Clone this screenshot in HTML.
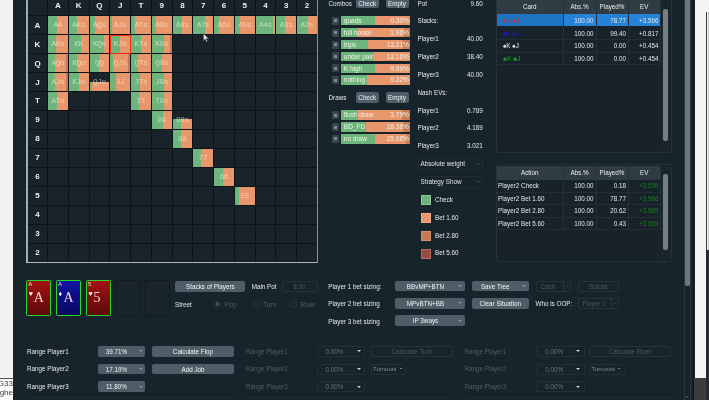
<!DOCTYPE html>
<html><head><meta charset="utf-8"><title>Solver</title>
<style>
html,body{margin:0;padding:0;background:#18242c;}
body{width:709px;height:400px;overflow:hidden;background:#18242c;position:relative;font-family:"Liberation Sans",sans-serif;font-size:6.3px;color:#e4e8ea;}
.a{position:absolute;}
.t{position:absolute;white-space:nowrap;line-height:10px;height:10px;}
.r{text-align:right;}
.c{text-align:center;}
.hd{position:absolute;font-weight:bold;font-size:8px;color:#f0f0f0;text-align:center;line-height:10px;}
.cell{position:absolute;background:#18232a;}
.cl{position:absolute;left:0;right:0;text-align:center;font-family:"Liberation Mono",monospace;font-size:7.7px;color:rgba(255,255,236,.55);line-height:10px;letter-spacing:-0.3px;}
.btn{position:absolute;background:#4f5d67;border-radius:2px;text-align:center;color:#f2f4f5;white-space:nowrap;}
.dbtn{position:absolute;border:1px solid #27333a;border-radius:2px;text-align:center;color:#4d5960;white-space:nowrap;box-sizing:border-box;}
.cb{position:absolute;background:#4f5d67;border-radius:2px;color:#f2f4f5;white-space:nowrap;text-align:center;}
.dcb{position:absolute;border:1px solid #232f36;border-radius:2px;box-sizing:border-box;color:#dfe4e6;white-space:nowrap;}
.dim{color:#515d64;}
.bar{position:absolute;height:9.6px;left:340.8px;width:69px;background:#e8976d;overflow:hidden;}
.bar i{position:absolute;left:0;top:0;bottom:0;background:#6db57c;}
.bar b{position:absolute;right:0;top:0;bottom:0;background:#c47a52;opacity:.9}
.bar span{position:absolute;left:3px;top:0;line-height:10px;color:#f4efe6;font-size:6.5px;}
.bar em{position:absolute;right:1px;top:0;line-height:10px;color:#f4efe6;font-style:normal;font-size:6.5px;}
.chk{position:absolute;left:332px;width:7px;height:8px;background:#38444c;border-radius:1px;}
.chk:after{content:"";position:absolute;left:2px;top:2.5px;width:3px;height:3px;background:#7d8890;}
.th{position:absolute;background:#303c44;color:#e8ecee;text-align:center;line-height:13px;}
.sq{position:absolute;left:420.5px;width:10px;height:10px;}
#w{position:absolute;left:0;top:0;width:709px;height:400px;filter:blur(0.5px);}
</style></head><body><div id="w">

<div class="a" style="left:-6px;top:-6px;width:19px;height:412px;background:#f1f1f1"></div>
<div class="a" style="left:-6px;top:378px;width:19px;height:28px;background:#fafafa;border-top:1px solid #555;overflow:hidden;font-size:8px;line-height:9px;color:#444;white-space:nowrap"><span style="position:absolute;right:0;top:0">8G33</span><span style="position:absolute;right:0;top:9px">aghe</span><span style="position:absolute;right:0;top:18px">layer</span></div>
<div class="a" style="left:27px;top:0;width:290.75px;height:262.65px;background:#0c1419"></div>
<div class="cell" style="left:28px;top:16.3px;width:19px;height:17.95px"></div>
<div class="hd" style="left:28px;top:20.675px;width:19px">A</div>
<div class="cell" style="left:28px;top:35.25px;width:19px;height:17.95px"></div>
<div class="hd" style="left:28px;top:39.625px;width:19px">K</div>
<div class="cell" style="left:28px;top:54.2px;width:19px;height:17.95px"></div>
<div class="hd" style="left:28px;top:58.575px;width:19px">Q</div>
<div class="cell" style="left:28px;top:73.15px;width:19px;height:17.95px"></div>
<div class="hd" style="left:28px;top:77.525px;width:19px">J</div>
<div class="cell" style="left:28px;top:92.1px;width:19px;height:17.95px"></div>
<div class="hd" style="left:28px;top:96.475px;width:19px">T</div>
<div class="cell" style="left:28px;top:111.05px;width:19px;height:17.95px"></div>
<div class="hd" style="left:28px;top:115.425px;width:19px">9</div>
<div class="cell" style="left:28px;top:130px;width:19px;height:17.95px"></div>
<div class="hd" style="left:28px;top:134.375px;width:19px">8</div>
<div class="cell" style="left:28px;top:148.95px;width:19px;height:17.95px"></div>
<div class="hd" style="left:28px;top:153.325px;width:19px">7</div>
<div class="cell" style="left:28px;top:167.9px;width:19px;height:17.95px"></div>
<div class="hd" style="left:28px;top:172.275px;width:19px">6</div>
<div class="cell" style="left:28px;top:186.85px;width:19px;height:17.95px"></div>
<div class="hd" style="left:28px;top:191.225px;width:19px">5</div>
<div class="cell" style="left:28px;top:205.8px;width:19px;height:17.95px"></div>
<div class="hd" style="left:28px;top:210.175px;width:19px">4</div>
<div class="cell" style="left:28px;top:224.75px;width:19px;height:17.95px"></div>
<div class="hd" style="left:28px;top:229.125px;width:19px">3</div>
<div class="cell" style="left:28px;top:243.7px;width:19px;height:17.95px"></div>
<div class="hd" style="left:28px;top:248.075px;width:19px">2</div>
<div class="cell" style="left:28px;top:0;width:19px;height:15.3px"></div>
<div class="cell" style="left:48px;top:0;width:19.75px;height:15.3px"></div>
<div class="hd" style="left:48px;top:1.3px;width:19.75px">A</div>
<div class="cell" style="left:68.75px;top:0;width:19.75px;height:15.3px"></div>
<div class="hd" style="left:68.75px;top:1.3px;width:19.75px">K</div>
<div class="cell" style="left:89.5px;top:0;width:19.75px;height:15.3px"></div>
<div class="hd" style="left:89.5px;top:1.3px;width:19.75px">Q</div>
<div class="cell" style="left:110.25px;top:0;width:19.75px;height:15.3px"></div>
<div class="hd" style="left:110.25px;top:1.3px;width:19.75px">J</div>
<div class="cell" style="left:131px;top:0;width:19.75px;height:15.3px"></div>
<div class="hd" style="left:131px;top:1.3px;width:19.75px">T</div>
<div class="cell" style="left:151.75px;top:0;width:19.75px;height:15.3px"></div>
<div class="hd" style="left:151.75px;top:1.3px;width:19.75px">9</div>
<div class="cell" style="left:172.5px;top:0;width:19.75px;height:15.3px"></div>
<div class="hd" style="left:172.5px;top:1.3px;width:19.75px">8</div>
<div class="cell" style="left:193.25px;top:0;width:19.75px;height:15.3px"></div>
<div class="hd" style="left:193.25px;top:1.3px;width:19.75px">7</div>
<div class="cell" style="left:214px;top:0;width:19.75px;height:15.3px"></div>
<div class="hd" style="left:214px;top:1.3px;width:19.75px">6</div>
<div class="cell" style="left:234.75px;top:0;width:19.75px;height:15.3px"></div>
<div class="hd" style="left:234.75px;top:1.3px;width:19.75px">5</div>
<div class="cell" style="left:255.5px;top:0;width:19.75px;height:15.3px"></div>
<div class="hd" style="left:255.5px;top:1.3px;width:19.75px">4</div>
<div class="cell" style="left:276.25px;top:0;width:19.75px;height:15.3px"></div>
<div class="hd" style="left:276.25px;top:1.3px;width:19.75px">3</div>
<div class="cell" style="left:297px;top:0;width:19.75px;height:15.3px"></div>
<div class="hd" style="left:297px;top:1.3px;width:19.75px">2</div>
<div class="cell" style="left:48px;top:16.3px;width:19.75px;height:17.95px"><div class="a" style="left:0;right:0;bottom:0;top:0%;background:#e8976d"><div class="a" style="left:0;top:0;bottom:0;width:48%;background:#6db57c"></div></div><div class="cl" style="top:4.2px">AA</div></div>
<div class="cell" style="left:68.75px;top:16.3px;width:19.75px;height:17.95px"><div class="a" style="left:0;right:0;bottom:0;top:0%;background:#e8976d"><div class="a" style="left:0;top:0;bottom:0;width:40%;background:#6db57c"></div></div><div class="cl" style="top:4.2px">AKs</div></div>
<div class="cell" style="left:89.5px;top:16.3px;width:19.75px;height:17.95px"><div class="a" style="left:0;right:0;bottom:0;top:0%;background:#e8976d"><div class="a" style="left:0;top:0;bottom:0;width:26%;background:#6db57c"></div></div><div class="cl" style="top:4.2px">AQs</div></div>
<div class="cell" style="left:110.25px;top:16.3px;width:19.75px;height:17.95px"><div class="a" style="left:0;right:0;bottom:0;top:0%;background:#e8976d"><div class="a" style="left:0;top:0;bottom:0;width:11%;background:#6db57c"></div></div><div class="cl" style="top:4.2px">AJs</div></div>
<div class="cell" style="left:131px;top:16.3px;width:19.75px;height:17.95px"><div class="a" style="left:0;right:0;bottom:0;top:0%;background:#e8976d"><div class="a" style="left:0;top:0;bottom:0;width:22%;background:#6db57c"></div></div><div class="cl" style="top:4.2px">ATs</div></div>
<div class="cell" style="left:151.75px;top:16.3px;width:19.75px;height:17.95px"><div class="a" style="left:0;right:0;bottom:0;top:0%;background:#e8976d"><div class="a" style="left:0;top:0;bottom:0;width:20%;background:#6db57c"></div></div><div class="cl" style="top:4.2px">A9s</div></div>
<div class="cell" style="left:172.5px;top:16.3px;width:19.75px;height:17.95px"><div class="a" style="left:0;right:0;bottom:0;top:0%;background:#e8976d"><div class="a" style="left:0;top:0;bottom:0;width:46%;background:#6db57c"></div></div><div class="cl" style="top:4.2px">A8s</div></div>
<div class="cell" style="left:193.25px;top:16.3px;width:19.75px;height:17.95px"><div class="a" style="left:0;right:0;bottom:0;top:0%;background:#e8976d"><div class="a" style="left:0;top:0;bottom:0;width:60%;background:#6db57c"></div></div><div class="cl" style="top:4.2px">A7s</div></div>
<div class="cell" style="left:214px;top:16.3px;width:19.75px;height:17.95px"><div class="a" style="left:0;right:0;bottom:0;top:0%;background:#e8976d"><div class="a" style="left:0;top:0;bottom:0;width:24%;background:#6db57c"></div></div><div class="cl" style="top:4.2px">A6s</div></div>
<div class="cell" style="left:234.75px;top:16.3px;width:19.75px;height:17.95px"><div class="a" style="left:0;right:0;bottom:0;top:0%;background:#e8976d"><div class="a" style="left:0;top:0;bottom:0;width:27%;background:#6db57c"></div></div><div class="cl" style="top:4.2px">A5s</div></div>
<div class="cell" style="left:255.5px;top:16.3px;width:19.75px;height:17.95px"><div class="a" style="left:0;right:0;bottom:0;top:0%;background:#e8976d"><div class="a" style="left:0;top:0;bottom:0;width:90%;background:#6db57c"></div></div><div class="cl" style="top:4.2px">A4s</div></div>
<div class="cell" style="left:276.25px;top:16.3px;width:19.75px;height:17.95px"><div class="a" style="left:0;right:0;bottom:0;top:0%;background:#e8976d"><div class="a" style="left:0;top:0;bottom:0;width:42%;background:#6db57c"></div></div><div class="cl" style="top:4.2px">A3s</div></div>
<div class="cell" style="left:297px;top:16.3px;width:19.75px;height:17.95px"><div class="a" style="left:0;right:0;bottom:0;top:0%;background:#e8976d"><div class="a" style="left:0;top:0;bottom:0;width:58%;background:#6db57c"></div></div><div class="cl" style="top:4.2px">A2s</div></div>
<div class="cell" style="left:48px;top:35.25px;width:19.75px;height:17.95px"><div class="a" style="left:0;right:0;bottom:0;top:0%;background:#e8976d"><div class="a" style="left:0;top:0;bottom:0;width:41%;background:#6db57c"></div></div><div class="cl" style="top:4.2px">AKo</div></div>
<div class="cell" style="left:68.75px;top:35.25px;width:19.75px;height:17.95px"><div class="a" style="left:0;right:0;bottom:0;top:0%;background:#e8976d"><div class="a" style="left:0;top:0;bottom:0;width:62%;background:#6db57c"></div></div><div class="cl" style="top:4.2px">KK</div></div>
<div class="cell" style="left:89.5px;top:35.25px;width:19.75px;height:17.95px"><div class="a" style="left:0;right:0;bottom:0;top:0%;background:#e8976d"><div class="a" style="left:0;top:0;bottom:0;width:75%;background:#6db57c"></div></div><div class="cl" style="top:4.2px">KQs</div></div>
<div class="cell" style="left:110.25px;top:35.25px;width:19.75px;height:17.95px"><div class="a" style="left:0;right:0;bottom:0;top:0%;background:#e8976d"><div class="a" style="left:0;top:0;bottom:0;width:50%;background:#6db57c"></div></div><div class="cl" style="top:4.2px">KJs</div></div>
<div class="cell" style="left:131px;top:35.25px;width:19.75px;height:17.95px"><div class="a" style="left:0;right:0;bottom:0;top:0%;background:#e8976d"><div class="a" style="left:0;top:0;bottom:0;width:53%;background:#6db57c"></div></div><div class="cl" style="top:4.2px">KTs</div></div>
<div class="cell" style="left:151.75px;top:35.25px;width:19.75px;height:17.95px"><div class="a" style="left:0;right:0;bottom:0;top:0%;background:#e8976d"><div class="a" style="left:0;top:0;bottom:0;width:64%;background:#6db57c"></div><div class="a" style="right:0;top:0;bottom:0;width:8%;background:#c47a52"></div></div><div class="cl" style="top:4.2px">K9s</div></div>
<div class="cell" style="left:172.5px;top:35.25px;width:19.75px;height:17.95px"></div>
<div class="cell" style="left:193.25px;top:35.25px;width:19.75px;height:17.95px"></div>
<div class="cell" style="left:214px;top:35.25px;width:19.75px;height:17.95px"></div>
<div class="cell" style="left:234.75px;top:35.25px;width:19.75px;height:17.95px"></div>
<div class="cell" style="left:255.5px;top:35.25px;width:19.75px;height:17.95px"></div>
<div class="cell" style="left:276.25px;top:35.25px;width:19.75px;height:17.95px"></div>
<div class="cell" style="left:297px;top:35.25px;width:19.75px;height:17.95px"></div>
<div class="cell" style="left:48px;top:54.2px;width:19.75px;height:17.95px"><div class="a" style="left:0;right:0;bottom:0;top:0%;background:#e8976d"><div class="a" style="left:0;top:0;bottom:0;width:37%;background:#6db57c"></div><div class="a" style="right:0;top:0;bottom:0;width:7%;background:#c47a52"></div></div><div class="cl" style="top:4.2px">AQo</div></div>
<div class="cell" style="left:68.75px;top:54.2px;width:19.75px;height:17.95px"><div class="a" style="left:0;right:0;bottom:0;top:0%;background:#e8976d"><div class="a" style="left:0;top:0;bottom:0;width:40%;background:#6db57c"></div></div><div class="cl" style="top:4.2px">KQo</div></div>
<div class="cell" style="left:89.5px;top:54.2px;width:19.75px;height:17.95px"><div class="a" style="left:0;right:0;bottom:0;top:0%;background:#e8976d"><div class="a" style="left:0;top:0;bottom:0;width:47%;background:#6db57c"></div></div><div class="cl" style="top:4.2px">QQ</div></div>
<div class="cell" style="left:110.25px;top:54.2px;width:19.75px;height:17.95px"><div class="a" style="left:0;right:0;bottom:0;top:0%;background:#e8976d"><div class="a" style="left:0;top:0;bottom:0;width:16%;background:#6db57c"></div><div class="a" style="right:0;top:0;bottom:0;width:10%;background:#c47a52"></div></div><div class="cl" style="top:4.2px">QJs</div></div>
<div class="cell" style="left:131px;top:54.2px;width:19.75px;height:17.95px"><div class="a" style="left:0;right:0;bottom:0;top:0%;background:#e8976d"><div class="a" style="left:0;top:0;bottom:0;width:33%;background:#6db57c"></div></div><div class="cl" style="top:4.2px">QTs</div></div>
<div class="cell" style="left:151.75px;top:54.2px;width:19.75px;height:17.95px"><div class="a" style="left:0;right:0;bottom:0;top:0%;background:#e8976d"><div class="a" style="left:0;top:0;bottom:0;width:50%;background:#6db57c"></div></div><div class="cl" style="top:4.2px">Q9s</div></div>
<div class="cell" style="left:172.5px;top:54.2px;width:19.75px;height:17.95px"></div>
<div class="cell" style="left:193.25px;top:54.2px;width:19.75px;height:17.95px"></div>
<div class="cell" style="left:214px;top:54.2px;width:19.75px;height:17.95px"></div>
<div class="cell" style="left:234.75px;top:54.2px;width:19.75px;height:17.95px"></div>
<div class="cell" style="left:255.5px;top:54.2px;width:19.75px;height:17.95px"></div>
<div class="cell" style="left:276.25px;top:54.2px;width:19.75px;height:17.95px"></div>
<div class="cell" style="left:297px;top:54.2px;width:19.75px;height:17.95px"></div>
<div class="cell" style="left:48px;top:73.15px;width:19.75px;height:17.95px"><div class="a" style="left:0;right:0;bottom:0;top:0%;background:#e8976d"><div class="a" style="left:0;top:0;bottom:0;width:34%;background:#6db57c"></div><div class="a" style="right:0;top:0;bottom:0;width:7%;background:#c47a52"></div></div><div class="cl" style="top:4.2px">AJo</div></div>
<div class="cell" style="left:68.75px;top:73.15px;width:19.75px;height:17.95px"><div class="a" style="left:0;right:0;bottom:0;top:0%;background:#e8976d"><div class="a" style="left:0;top:0;bottom:0;width:52%;background:#6db57c"></div></div><div class="cl" style="top:4.2px">KJo</div></div>
<div class="cell" style="left:89.5px;top:73.15px;width:19.75px;height:17.95px"><div class="a" style="left:0;right:0;bottom:0;top:49%;background:#e8976d"><div class="a" style="left:0;top:0;bottom:0;width:14%;background:#6db57c"></div></div><div class="cl" style="top:4.2px">QJo</div></div>
<div class="cell" style="left:110.25px;top:73.15px;width:19.75px;height:17.95px"><div class="a" style="left:0;right:0;bottom:0;top:0%;background:#e8976d"><div class="a" style="left:0;top:0;bottom:0;width:31%;background:#6db57c"></div></div><div class="cl" style="top:4.2px">JJ</div></div>
<div class="cell" style="left:131px;top:73.15px;width:19.75px;height:17.95px"><div class="a" style="left:0;right:0;bottom:0;top:0%;background:#e8976d"><div class="a" style="left:0;top:0;bottom:0;width:45%;background:#6db57c"></div></div><div class="cl" style="top:4.2px">JTs</div></div>
<div class="cell" style="left:151.75px;top:73.15px;width:19.75px;height:17.95px"><div class="a" style="left:0;right:0;bottom:0;top:0%;background:#e8976d"><div class="a" style="left:0;top:0;bottom:0;width:60%;background:#6db57c"></div></div><div class="cl" style="top:4.2px">J9s</div></div>
<div class="cell" style="left:172.5px;top:73.15px;width:19.75px;height:17.95px"></div>
<div class="cell" style="left:193.25px;top:73.15px;width:19.75px;height:17.95px"></div>
<div class="cell" style="left:214px;top:73.15px;width:19.75px;height:17.95px"></div>
<div class="cell" style="left:234.75px;top:73.15px;width:19.75px;height:17.95px"></div>
<div class="cell" style="left:255.5px;top:73.15px;width:19.75px;height:17.95px"></div>
<div class="cell" style="left:276.25px;top:73.15px;width:19.75px;height:17.95px"></div>
<div class="cell" style="left:297px;top:73.15px;width:19.75px;height:17.95px"></div>
<div class="cell" style="left:48px;top:92.1px;width:19.75px;height:17.95px"><div class="a" style="left:0;right:0;bottom:0;top:0%;background:#e8976d"><div class="a" style="left:0;top:0;bottom:0;width:45%;background:#6db57c"></div></div><div class="cl" style="top:4.2px">ATo</div></div>
<div class="cell" style="left:68.75px;top:92.1px;width:19.75px;height:17.95px"></div>
<div class="cell" style="left:89.5px;top:92.1px;width:19.75px;height:17.95px"></div>
<div class="cell" style="left:110.25px;top:92.1px;width:19.75px;height:17.95px"></div>
<div class="cell" style="left:131px;top:92.1px;width:19.75px;height:17.95px"><div class="a" style="left:0;right:0;bottom:0;top:0%;background:#e8976d"><div class="a" style="left:0;top:0;bottom:0;width:43%;background:#6db57c"></div></div><div class="cl" style="top:4.2px">TT</div></div>
<div class="cell" style="left:151.75px;top:92.1px;width:19.75px;height:17.95px"><div class="a" style="left:0;right:0;bottom:0;top:0%;background:#e8976d"><div class="a" style="left:0;top:0;bottom:0;width:60%;background:#6db57c"></div></div><div class="cl" style="top:4.2px">T9s</div></div>
<div class="cell" style="left:172.5px;top:92.1px;width:19.75px;height:17.95px"></div>
<div class="cell" style="left:193.25px;top:92.1px;width:19.75px;height:17.95px"></div>
<div class="cell" style="left:214px;top:92.1px;width:19.75px;height:17.95px"></div>
<div class="cell" style="left:234.75px;top:92.1px;width:19.75px;height:17.95px"></div>
<div class="cell" style="left:255.5px;top:92.1px;width:19.75px;height:17.95px"></div>
<div class="cell" style="left:276.25px;top:92.1px;width:19.75px;height:17.95px"></div>
<div class="cell" style="left:297px;top:92.1px;width:19.75px;height:17.95px"></div>
<div class="cell" style="left:48px;top:111.05px;width:19.75px;height:17.95px"></div>
<div class="cell" style="left:68.75px;top:111.05px;width:19.75px;height:17.95px"></div>
<div class="cell" style="left:89.5px;top:111.05px;width:19.75px;height:17.95px"></div>
<div class="cell" style="left:110.25px;top:111.05px;width:19.75px;height:17.95px"></div>
<div class="cell" style="left:131px;top:111.05px;width:19.75px;height:17.95px"></div>
<div class="cell" style="left:151.75px;top:111.05px;width:19.75px;height:17.95px"><div class="a" style="left:0;right:0;bottom:0;top:0%;background:#e8976d"><div class="a" style="left:0;top:0;bottom:0;width:58%;background:#6db57c"></div></div><div class="cl" style="top:4.2px">99</div></div>
<div class="cell" style="left:172.5px;top:111.05px;width:19.75px;height:17.95px"><div class="a" style="left:0;right:0;bottom:0;top:47%;background:#e8976d"><div class="a" style="left:0;top:0;bottom:0;width:44%;background:#6db57c"></div></div><div class="cl" style="top:4.2px">98s</div></div>
<div class="cell" style="left:193.25px;top:111.05px;width:19.75px;height:17.95px"></div>
<div class="cell" style="left:214px;top:111.05px;width:19.75px;height:17.95px"></div>
<div class="cell" style="left:234.75px;top:111.05px;width:19.75px;height:17.95px"></div>
<div class="cell" style="left:255.5px;top:111.05px;width:19.75px;height:17.95px"></div>
<div class="cell" style="left:276.25px;top:111.05px;width:19.75px;height:17.95px"></div>
<div class="cell" style="left:297px;top:111.05px;width:19.75px;height:17.95px"></div>
<div class="cell" style="left:48px;top:130px;width:19.75px;height:17.95px"></div>
<div class="cell" style="left:68.75px;top:130px;width:19.75px;height:17.95px"></div>
<div class="cell" style="left:89.5px;top:130px;width:19.75px;height:17.95px"></div>
<div class="cell" style="left:110.25px;top:130px;width:19.75px;height:17.95px"></div>
<div class="cell" style="left:131px;top:130px;width:19.75px;height:17.95px"></div>
<div class="cell" style="left:151.75px;top:130px;width:19.75px;height:17.95px"></div>
<div class="cell" style="left:172.5px;top:130px;width:19.75px;height:17.95px"><div class="a" style="left:0;right:0;bottom:0;top:0%;background:#e8976d"><div class="a" style="left:0;top:0;bottom:0;width:44%;background:#6db57c"></div></div><div class="cl" style="top:4.2px">88</div></div>
<div class="cell" style="left:193.25px;top:130px;width:19.75px;height:17.95px"></div>
<div class="cell" style="left:214px;top:130px;width:19.75px;height:17.95px"></div>
<div class="cell" style="left:234.75px;top:130px;width:19.75px;height:17.95px"></div>
<div class="cell" style="left:255.5px;top:130px;width:19.75px;height:17.95px"></div>
<div class="cell" style="left:276.25px;top:130px;width:19.75px;height:17.95px"></div>
<div class="cell" style="left:297px;top:130px;width:19.75px;height:17.95px"></div>
<div class="cell" style="left:48px;top:148.95px;width:19.75px;height:17.95px"></div>
<div class="cell" style="left:68.75px;top:148.95px;width:19.75px;height:17.95px"></div>
<div class="cell" style="left:89.5px;top:148.95px;width:19.75px;height:17.95px"></div>
<div class="cell" style="left:110.25px;top:148.95px;width:19.75px;height:17.95px"></div>
<div class="cell" style="left:131px;top:148.95px;width:19.75px;height:17.95px"></div>
<div class="cell" style="left:151.75px;top:148.95px;width:19.75px;height:17.95px"></div>
<div class="cell" style="left:172.5px;top:148.95px;width:19.75px;height:17.95px"></div>
<div class="cell" style="left:193.25px;top:148.95px;width:19.75px;height:17.95px"><div class="a" style="left:0;right:0;bottom:0;top:0%;background:#e8976d"><div class="a" style="left:0;top:0;bottom:0;width:40%;background:#6db57c"></div></div><div class="cl" style="top:4.2px">77</div></div>
<div class="cell" style="left:214px;top:148.95px;width:19.75px;height:17.95px"></div>
<div class="cell" style="left:234.75px;top:148.95px;width:19.75px;height:17.95px"></div>
<div class="cell" style="left:255.5px;top:148.95px;width:19.75px;height:17.95px"></div>
<div class="cell" style="left:276.25px;top:148.95px;width:19.75px;height:17.95px"></div>
<div class="cell" style="left:297px;top:148.95px;width:19.75px;height:17.95px"></div>
<div class="cell" style="left:48px;top:167.9px;width:19.75px;height:17.95px"></div>
<div class="cell" style="left:68.75px;top:167.9px;width:19.75px;height:17.95px"></div>
<div class="cell" style="left:89.5px;top:167.9px;width:19.75px;height:17.95px"></div>
<div class="cell" style="left:110.25px;top:167.9px;width:19.75px;height:17.95px"></div>
<div class="cell" style="left:131px;top:167.9px;width:19.75px;height:17.95px"></div>
<div class="cell" style="left:151.75px;top:167.9px;width:19.75px;height:17.95px"></div>
<div class="cell" style="left:172.5px;top:167.9px;width:19.75px;height:17.95px"></div>
<div class="cell" style="left:193.25px;top:167.9px;width:19.75px;height:17.95px"></div>
<div class="cell" style="left:214px;top:167.9px;width:19.75px;height:17.95px"><div class="a" style="left:0;right:0;bottom:0;top:0%;background:#e8976d"><div class="a" style="left:0;top:0;bottom:0;width:44%;background:#6db57c"></div></div><div class="cl" style="top:4.2px">66</div></div>
<div class="cell" style="left:234.75px;top:167.9px;width:19.75px;height:17.95px"></div>
<div class="cell" style="left:255.5px;top:167.9px;width:19.75px;height:17.95px"></div>
<div class="cell" style="left:276.25px;top:167.9px;width:19.75px;height:17.95px"></div>
<div class="cell" style="left:297px;top:167.9px;width:19.75px;height:17.95px"></div>
<div class="cell" style="left:48px;top:186.85px;width:19.75px;height:17.95px"></div>
<div class="cell" style="left:68.75px;top:186.85px;width:19.75px;height:17.95px"></div>
<div class="cell" style="left:89.5px;top:186.85px;width:19.75px;height:17.95px"></div>
<div class="cell" style="left:110.25px;top:186.85px;width:19.75px;height:17.95px"></div>
<div class="cell" style="left:131px;top:186.85px;width:19.75px;height:17.95px"></div>
<div class="cell" style="left:151.75px;top:186.85px;width:19.75px;height:17.95px"></div>
<div class="cell" style="left:172.5px;top:186.85px;width:19.75px;height:17.95px"></div>
<div class="cell" style="left:193.25px;top:186.85px;width:19.75px;height:17.95px"></div>
<div class="cell" style="left:214px;top:186.85px;width:19.75px;height:17.95px"></div>
<div class="cell" style="left:234.75px;top:186.85px;width:19.75px;height:17.95px"><div class="a" style="left:0;right:0;bottom:0;top:0%;background:#e8976d"><div class="a" style="left:0;top:0;bottom:0;width:20%;background:#6db57c"></div></div><div class="cl" style="top:4.2px">55</div></div>
<div class="cell" style="left:255.5px;top:186.85px;width:19.75px;height:17.95px"></div>
<div class="cell" style="left:276.25px;top:186.85px;width:19.75px;height:17.95px"></div>
<div class="cell" style="left:297px;top:186.85px;width:19.75px;height:17.95px"></div>
<div class="cell" style="left:48px;top:205.8px;width:19.75px;height:17.95px"></div>
<div class="cell" style="left:68.75px;top:205.8px;width:19.75px;height:17.95px"></div>
<div class="cell" style="left:89.5px;top:205.8px;width:19.75px;height:17.95px"></div>
<div class="cell" style="left:110.25px;top:205.8px;width:19.75px;height:17.95px"></div>
<div class="cell" style="left:131px;top:205.8px;width:19.75px;height:17.95px"></div>
<div class="cell" style="left:151.75px;top:205.8px;width:19.75px;height:17.95px"></div>
<div class="cell" style="left:172.5px;top:205.8px;width:19.75px;height:17.95px"></div>
<div class="cell" style="left:193.25px;top:205.8px;width:19.75px;height:17.95px"></div>
<div class="cell" style="left:214px;top:205.8px;width:19.75px;height:17.95px"></div>
<div class="cell" style="left:234.75px;top:205.8px;width:19.75px;height:17.95px"></div>
<div class="cell" style="left:255.5px;top:205.8px;width:19.75px;height:17.95px"></div>
<div class="cell" style="left:276.25px;top:205.8px;width:19.75px;height:17.95px"></div>
<div class="cell" style="left:297px;top:205.8px;width:19.75px;height:17.95px"></div>
<div class="cell" style="left:48px;top:224.75px;width:19.75px;height:17.95px"></div>
<div class="cell" style="left:68.75px;top:224.75px;width:19.75px;height:17.95px"></div>
<div class="cell" style="left:89.5px;top:224.75px;width:19.75px;height:17.95px"></div>
<div class="cell" style="left:110.25px;top:224.75px;width:19.75px;height:17.95px"></div>
<div class="cell" style="left:131px;top:224.75px;width:19.75px;height:17.95px"></div>
<div class="cell" style="left:151.75px;top:224.75px;width:19.75px;height:17.95px"></div>
<div class="cell" style="left:172.5px;top:224.75px;width:19.75px;height:17.95px"></div>
<div class="cell" style="left:193.25px;top:224.75px;width:19.75px;height:17.95px"></div>
<div class="cell" style="left:214px;top:224.75px;width:19.75px;height:17.95px"></div>
<div class="cell" style="left:234.75px;top:224.75px;width:19.75px;height:17.95px"></div>
<div class="cell" style="left:255.5px;top:224.75px;width:19.75px;height:17.95px"></div>
<div class="cell" style="left:276.25px;top:224.75px;width:19.75px;height:17.95px"></div>
<div class="cell" style="left:297px;top:224.75px;width:19.75px;height:17.95px"></div>
<div class="cell" style="left:48px;top:243.7px;width:19.75px;height:17.95px"></div>
<div class="cell" style="left:68.75px;top:243.7px;width:19.75px;height:17.95px"></div>
<div class="cell" style="left:89.5px;top:243.7px;width:19.75px;height:17.95px"></div>
<div class="cell" style="left:110.25px;top:243.7px;width:19.75px;height:17.95px"></div>
<div class="cell" style="left:131px;top:243.7px;width:19.75px;height:17.95px"></div>
<div class="cell" style="left:151.75px;top:243.7px;width:19.75px;height:17.95px"></div>
<div class="cell" style="left:172.5px;top:243.7px;width:19.75px;height:17.95px"></div>
<div class="cell" style="left:193.25px;top:243.7px;width:19.75px;height:17.95px"></div>
<div class="cell" style="left:214px;top:243.7px;width:19.75px;height:17.95px"></div>
<div class="cell" style="left:234.75px;top:243.7px;width:19.75px;height:17.95px"></div>
<div class="cell" style="left:255.5px;top:243.7px;width:19.75px;height:17.95px"></div>
<div class="cell" style="left:276.25px;top:243.7px;width:19.75px;height:17.95px"></div>
<div class="cell" style="left:297px;top:243.7px;width:19.75px;height:17.95px"></div>
<div class="a" style="left:109.75px;top:34.75px;width:20.75px;height:18.95px;border:1.5px solid #fa2616;box-sizing:border-box"></div>
<div class="a" style="left:26.1px;top:0;width:1.5px;height:262.65px;background:#a4adb3"></div>
<div class="a" style="left:26px;top:262.15px;width:291.75px;height:1px;background:#aeb4b8"></div>
<div class="a" style="left:317.45px;top:0;width:1px;height:262.65px;background:#8a9297"></div>
<svg class="a" style="left:203px;top:33px" width="7.2" height="9.9" viewBox="0 0 8 11"><path d="M0.5 0.5 L0.5 8.5 L2.4 6.8 L3.8 10 L5 9.5 L3.7 6.4 L6.3 6.3 Z" fill="#e8ecee" stroke="#333" stroke-width="0.6"/></svg>
<div class="t " style="left:328.5px;top:-1.1px;">Combos</div>
<div class="btn" style="left:355.5px;top:-4px;width:23.5px;height:11.8px;line-height:13px;line-height:15px">Check</div>
<div class="btn" style="left:385.5px;top:-4px;width:23px;height:11.8px;line-height:13px;line-height:15px">Empty</div>
<div class="chk" style="top:16.7px"></div>
<div class="bar" style="top:15.9px"><i style="width:49%"></i><span>quads</span><em>0.30%</em></div>
<div class="chk" style="top:28.6px"></div>
<div class="bar" style="top:27.8px"><i style="width:24%"></i><b style="width:8%"></b><span>full house</span><em>1.96%</em></div>
<div class="chk" style="top:40.5px"></div>
<div class="bar" style="top:39.7px"><i style="width:39%"></i><b style="width:10%"></b><span>trips</span><em>13.21%</em></div>
<div class="chk" style="top:52.4px"></div>
<div class="bar" style="top:51.6px"><i style="width:47%"></i><span>under pair</span><em>13.16%</em></div>
<div class="chk" style="top:64.3px"></div>
<div class="bar" style="top:63.5px"><i style="width:49%"></i><span>K high</span><em>9.99%</em></div>
<div class="chk" style="top:76.2px"></div>
<div class="bar" style="top:75.4px"><i style="width:38%"></i><span>nothing</span><em>9.32%</em></div>
<div class="t " style="left:328.5px;top:93px;">Draws</div>
<div class="btn" style="left:355.5px;top:92px;width:23.5px;height:11px;line-height:12.2px;">Check</div>
<div class="btn" style="left:385.5px;top:92px;width:23px;height:11px;line-height:12.2px;">Empty</div>
<div class="chk" style="top:111.2px"></div>
<div class="bar" style="top:110.4px"><i style="width:25%"></i><b style="width:12%"></b><span>flush draw</span><em>3.79%</em></div>
<div class="chk" style="top:123px"></div>
<div class="bar" style="top:122.2px"><i style="width:36%"></i><b style="width:10%"></b><span>BD_FD</span><em>18.36%</em></div>
<div class="chk" style="top:134.8px"></div>
<div class="bar" style="top:134px"><i style="width:49%"></i><b style="width:5%"></b><span>no draw</span><em>25.98%</em></div>
<div class="t " style="left:417.5px;top:-1.2px;">Pot</div>
<div class="t " style="left:440px;top:-1.2px;width:42.7px;text-align:right;">9.60</div>
<div class="t " style="left:417.5px;top:16px;">Stacks:</div>
<div class="t " style="left:417.5px;top:34.3px;">Player1</div>
<div class="t " style="left:440px;top:34.3px;width:42.7px;text-align:right;">40.00</div>
<div class="t " style="left:417.5px;top:52.1px;">Player2</div>
<div class="t " style="left:440px;top:52.1px;width:42.7px;text-align:right;">38.40</div>
<div class="t " style="left:417.5px;top:69.9px;">Player3</div>
<div class="t " style="left:440px;top:69.9px;width:42.7px;text-align:right;">40.00</div>
<div class="t " style="left:417.5px;top:87.7px;">Nash EVs:</div>
<div class="t " style="left:417.5px;top:105.5px;">Player1</div>
<div class="t " style="left:440px;top:105.5px;width:42.7px;text-align:right;">0.789</div>
<div class="t " style="left:417.5px;top:123.3px;">Player2</div>
<div class="t " style="left:440px;top:123.3px;width:42.7px;text-align:right;">4.189</div>
<div class="t " style="left:417.5px;top:141.1px;">Player3</div>
<div class="t " style="left:440px;top:141.1px;width:42.7px;text-align:right;">3.021</div>
<div class="dcb" style="left:418px;top:157.5px;width:64.5px;height:12px;line-height:10.8px;border-color:#212c34;"><span style="position:absolute;left:1.5px">Absolute weight</span></div>
<div class="a" style="left:476px;top:162.5px;width:0;height:0;border-left:2px solid transparent;border-right:2px solid transparent;border-top:2.2px solid #38444b"></div>
<div class="dcb" style="left:418px;top:175.5px;width:64.5px;height:12px;line-height:10.8px;border-color:#212c34;"><span style="position:absolute;left:1.5px">Strategy Show</span></div>
<div class="a" style="left:476px;top:180.5px;width:0;height:0;border-left:2px solid transparent;border-right:2px solid transparent;border-top:2.2px solid #38444b"></div>
<div class="sq" style="top:195.3px;background:#6db57c;box-shadow:inset 0 0 0 0.7px rgba(255,255,255,.25)"></div>
<div class="t " style="left:435px;top:195.2px;">Check</div>
<div class="sq" style="top:213.05px;background:#e8976d;box-shadow:inset 0 0 0 0.7px rgba(255,255,255,.25)"></div>
<div class="t " style="left:435px;top:212.95px;">Bet 1.60</div>
<div class="sq" style="top:230.8px;background:#c47a52;box-shadow:inset 0 0 0 0.7px rgba(255,255,255,.25)"></div>
<div class="t " style="left:435px;top:230.7px;">Bet 2.80</div>
<div class="sq" style="top:248.55px;background:#9c4a40;box-shadow:inset 0 0 0 0.7px rgba(255,255,255,.25)"></div>
<div class="t " style="left:435px;top:248.45px;">Bet 5.60</div>
<div class="a" style="left:495.5px;top:-3px;width:176px;height:155.5px;border:1px solid #26323a;border-radius:3px;box-sizing:border-box;background:#17222a"></div>
<div class="th" style="left:496.5px;top:0;width:66.5px;height:13.5px">Card</div>
<div class="th" style="left:563.5px;top:0;width:32px;height:13.5px">Abs.%</div>
<div class="th" style="left:596px;top:0;width:32px;height:13.5px">Played%</div>
<div class="th" style="left:628.5px;top:0;width:31.5px;height:13.5px">EV</div>
<div class="a" style="left:496.5px;top:14.3px;width:66.5px;height:12px;background:#1f74c2"></div>
<div class="a" style="left:563.5px;top:14.3px;width:96.5px;height:12px;background:#2582d6"></div>
<div class="t " style="left:503px;top:16px;color:#ff1a1a;">♥K ♥J</div>
<div class="t " style="left:563.5px;top:16px;width:30px;text-align:right;">100.00</div>
<div class="t " style="left:596px;top:16px;width:30px;text-align:right;">78.77</div>
<div class="t " style="left:628.5px;top:16px;width:30px;text-align:right;">+3.566</div>
<div class="t " style="left:503px;top:28.5px;color:#1a1aff;">♦K ♦J</div>
<div class="t " style="left:563.5px;top:28.5px;width:30px;text-align:right;">100.00</div>
<div class="t " style="left:596px;top:28.5px;width:30px;text-align:right;">99.40</div>
<div class="t " style="left:628.5px;top:28.5px;width:30px;text-align:right;">+0.817</div>
<div class="a" style="left:496.5px;top:39.1px;width:163.5px;height:1px;background:#222d34"></div>
<div class="t " style="left:503px;top:41px;color:#f0f0f0;">♠K ♠J</div>
<div class="t " style="left:563.5px;top:41px;width:30px;text-align:right;">100.00</div>
<div class="t " style="left:596px;top:41px;width:30px;text-align:right;">0.00</div>
<div class="t " style="left:628.5px;top:41px;width:30px;text-align:right;">+0.454</div>
<div class="a" style="left:496.5px;top:51.6px;width:163.5px;height:1px;background:#222d34"></div>
<div class="t " style="left:503px;top:53.5px;color:#18a818;">♣K ♣J</div>
<div class="t " style="left:563.5px;top:53.5px;width:30px;text-align:right;">100.00</div>
<div class="t " style="left:596px;top:53.5px;width:30px;text-align:right;">0.00</div>
<div class="t " style="left:628.5px;top:53.5px;width:30px;text-align:right;">+0.454</div>
<div class="a" style="left:496.5px;top:64.1px;width:163.5px;height:1px;background:#222d34"></div>
<div class="a" style="left:563px;top:0;width:0.7px;height:64px;background:#25313a"></div>
<div class="a" style="left:595.7px;top:0;width:0.7px;height:64px;background:#25313a"></div>
<div class="a" style="left:628.2px;top:0;width:0.7px;height:64px;background:#25313a"></div>
<div class="a" style="left:660px;top:0;width:0.7px;height:64px;background:#25313a"></div>
<div class="a" style="left:662px;top:-2px;width:7px;height:152px;border:1px solid #1e2930;border-radius:3px;box-sizing:border-box"></div>
<div class="a" style="left:663px;top:9px;width:4.8px;height:132px;background:#757e83;border-radius:2px"></div>
<div class="a" style="left:495.5px;top:163.5px;width:176px;height:98px;border:1px solid #26323a;border-radius:3px;box-sizing:border-box;background:#17222a"></div>
<div class="th" style="left:496.5px;top:165.5px;width:66.5px;height:14px;line-height:14px">Action</div>
<div class="th" style="left:563.5px;top:165.5px;width:32px;height:14px;line-height:14px">Abs.%</div>
<div class="th" style="left:596px;top:165.5px;width:32px;height:14px;line-height:14px">Played%</div>
<div class="th" style="left:628.5px;top:165.5px;width:31.5px;height:14px;line-height:14px">EV</div>
<div class="t " style="left:498px;top:181.2px;">Player2 Check</div>
<div class="t " style="left:563.5px;top:181.2px;width:30px;text-align:right;">100.00</div>
<div class="t " style="left:596px;top:181.2px;width:30px;text-align:right;">0.18</div>
<div class="t " style="left:628.5px;top:181.2px;width:30px;text-align:right;color:#1d7c1d;">+3.556</div>
<div class="a" style="left:496.5px;top:191.8px;width:163.5px;height:1px;background:#222d34"></div>
<div class="t " style="left:498px;top:193.7px;">Player2 Bet 1.60</div>
<div class="t " style="left:563.5px;top:193.7px;width:30px;text-align:right;">100.00</div>
<div class="t " style="left:596px;top:193.7px;width:30px;text-align:right;">78.77</div>
<div class="t " style="left:628.5px;top:193.7px;width:30px;text-align:right;color:#1d7c1d;">+3.566</div>
<div class="a" style="left:496.5px;top:204.3px;width:163.5px;height:1px;background:#222d34"></div>
<div class="t " style="left:498px;top:206.2px;">Player2 Bet 2.80</div>
<div class="t " style="left:563.5px;top:206.2px;width:30px;text-align:right;">100.00</div>
<div class="t " style="left:596px;top:206.2px;width:30px;text-align:right;">20.62</div>
<div class="t " style="left:628.5px;top:206.2px;width:30px;text-align:right;color:#1d7c1d;">+3.565</div>
<div class="a" style="left:496.5px;top:216.8px;width:163.5px;height:1px;background:#222d34"></div>
<div class="t " style="left:498px;top:218.7px;">Player2 Bet 5.60</div>
<div class="t " style="left:563.5px;top:218.7px;width:30px;text-align:right;">100.00</div>
<div class="t " style="left:596px;top:218.7px;width:30px;text-align:right;">0.43</div>
<div class="t " style="left:628.5px;top:218.7px;width:30px;text-align:right;color:#1d7c1d;">+3.569</div>
<div class="a" style="left:496.5px;top:229.3px;width:163.5px;height:1px;background:#222d34"></div>
<div class="a" style="left:563px;top:166px;width:0.7px;height:64px;background:#25313a"></div>
<div class="a" style="left:595.7px;top:166px;width:0.7px;height:64px;background:#25313a"></div>
<div class="a" style="left:628.2px;top:166px;width:0.7px;height:64px;background:#25313a"></div>
<div class="a" style="left:660px;top:166px;width:0.7px;height:64px;background:#25313a"></div>
<div class="a" style="left:662px;top:167px;width:7px;height:92px;border:1px solid #1e2930;border-radius:3px;box-sizing:border-box"></div>
<div class="a" style="left:663.2px;top:174.4px;width:4.7px;height:75.5px;background:#757e83;border-radius:2px"></div>
<div class="a" style="left:26.3px;top:279.5px;width:25px;height:36px;box-sizing:border-box;border:1.2px solid #2ad82a;border-radius:1.5px;background:linear-gradient(#a31212,#5c0909);overflow:hidden;color:#f6d8d8"><div class="a" style="left:1px;top:0px;font-size:6px;line-height:7px">A</div><div class="a" style="left:1.5px;top:9px;font-size:7px;line-height:8px;color:#fff">♥</div><div class="a" style="left:6.5px;top:9.5px;font-family:'Liberation Serif',serif;font-size:14px;line-height:16px">A</div></div>
<div class="a" style="left:56.1px;top:279.5px;width:25px;height:36px;box-sizing:border-box;border:1.2px solid #2ad82a;border-radius:1.5px;background:linear-gradient(#1212a3,#090960);overflow:hidden;color:#f6d8d8"><div class="a" style="left:1px;top:0px;font-size:6px;line-height:7px">A</div><div class="a" style="left:1.5px;top:9px;font-size:7px;line-height:8px;color:#fff">♦</div><div class="a" style="left:6.5px;top:9.5px;font-family:'Liberation Serif',serif;font-size:14px;line-height:16px">A</div></div>
<div class="a" style="left:85.9px;top:279.5px;width:25px;height:36px;box-sizing:border-box;border:1.2px solid #2ad82a;border-radius:1.5px;background:linear-gradient(#a31212,#5c0909);overflow:hidden;color:#f6d8d8"><div class="a" style="left:1px;top:0px;font-size:6px;line-height:7px">5</div><div class="a" style="left:1.5px;top:9px;font-size:7px;line-height:8px;color:#fff">♥</div><div class="a" style="left:6.5px;top:9.5px;font-family:'Liberation Serif',serif;font-size:14px;line-height:16px">5</div></div>
<div class="a" style="left:115.3px;top:279.5px;width:25px;height:36px;box-sizing:border-box;border:1px solid #121a1f;border-radius:1.5px;background:#1a242b"></div>
<div class="a" style="left:144.8px;top:279.5px;width:25px;height:36px;box-sizing:border-box;border:1px solid #121a1f;border-radius:1.5px;background:#1a242b"></div>
<div class="btn" style="left:175.3px;top:280.5px;width:70.2px;height:11px;line-height:12.2px;">Stacks of Players</div>
<div class="t " style="left:251.7px;top:281.7px;">Main Pot</div>
<div class="dbtn" style="left:281.5px;top:280.5px;width:36px;height:11.5px;line-height:10.3px;">8.00</div>
<div class="t " style="left:175px;top:299.5px;">Street</div>
<div class="a" style="left:214.1px;top:300.6px;width:7px;height:7px;border-radius:50%;border:1px solid #2d3940;box-sizing:border-box"></div>
<div class="t dim" style="left:224.4px;top:299.5px;">Flop</div>
<div class="a" style="left:252.9px;top:300.6px;width:7px;height:7px;border-radius:50%;border:1px solid #2d3940;box-sizing:border-box"></div>
<div class="t dim" style="left:263.2px;top:299.5px;">Turn</div>
<div class="a" style="left:290.3px;top:300.6px;width:7px;height:7px;border-radius:50%;border:1px solid #2d3940;box-sizing:border-box"></div>
<div class="t dim" style="left:300.6px;top:299.5px;">River</div>
<div class="a" style="left:215.6px;top:302.4px;width:3.4px;height:3.4px;border-radius:50%;background:#47535a"></div>
<div class="t " style="left:328.2px;top:281.7px;">Player 1 bet sizing:</div>
<div class="t " style="left:328.2px;top:299.2px;">Player 2 bet sizing</div>
<div class="t " style="left:328.2px;top:316.9px;">Player 3 bet sizing</div>
<div class="cb" style="left:394.5px;top:280.7px;width:70px;height:10.5px;line-height:11.7px;"><span style="position:relative;left:-4px">BBvMP+BTN</span></div>
<div class="a" style="left:458px;top:285px;width:0;height:0;border-left:2px solid transparent;border-right:2px solid transparent;border-top:2.2px solid #8a959b"></div>
<div class="cb" style="left:394.5px;top:298px;width:70px;height:10.5px;line-height:11.7px;"><span style="position:relative;left:-4px">MPvBTN+BB</span></div>
<div class="a" style="left:458px;top:302.3px;width:0;height:0;border-left:2px solid transparent;border-right:2px solid transparent;border-top:2.2px solid #8a959b"></div>
<div class="cb" style="left:394.5px;top:315.3px;width:70px;height:10.5px;line-height:11.7px;"><span style="position:relative;left:-4px">IP 3ways</span></div>
<div class="a" style="left:458px;top:319.6px;width:0;height:0;border-left:2px solid transparent;border-right:2px solid transparent;border-top:2.2px solid #8a959b"></div>
<div class="cb" style="left:471.5px;top:280.7px;width:57.5px;height:10.5px;line-height:11.7px;"><span style="position:relative;left:-5px">Save Tree</span></div>
<div class="a" style="left:522px;top:285px;width:0;height:0;border-left:2px solid transparent;border-right:2px solid transparent;border-top:2.2px solid #8a959b"></div>
<div class="btn" style="left:471.5px;top:298px;width:57.5px;height:10.5px;line-height:11.7px;">Clear Situation</div>
<div class="dbtn" style="left:535.5px;top:280.5px;width:35.5px;height:11.5px;line-height:10.3px;"><span style="position:absolute;left:4px">Cash</span></div>
<div class="a" style="left:563px;top:281px;width:1px;height:10px;background:#2c3940"></div>
<div class="a" style="left:565.5px;top:285.5px;width:0;height:0;border-left:1.6px solid transparent;border-right:1.6px solid transparent;border-top:1.76px solid #4a565d"></div>
<div class="dbtn" style="left:577.5px;top:280.5px;width:41.5px;height:11.5px;line-height:10.3px;">Stacks</div>
<div class="t " style="left:535.5px;top:298.7px;">Who is OOP:</div>
<div class="dbtn" style="left:577.5px;top:297.5px;width:41.5px;height:11.5px;line-height:10.3px;"><span style="position:absolute;left:4px">Player 1</span></div>
<div class="a" style="left:611px;top:298px;width:1px;height:10px;background:#2c3940"></div>
<div class="a" style="left:613.5px;top:302.5px;width:0;height:0;border-left:1.6px solid transparent;border-right:1.6px solid transparent;border-top:1.76px solid #4a565d"></div>
<div class="t " style="left:27px;top:346.7px;">Range Player1</div>
<div class="cb" style="left:98px;top:346px;width:47px;height:10.6px;line-height:11.8px;"><span style="position:relative;left:-5px">39.71%</span></div>
<div class="a" style="left:139px;top:350.3px;width:0;height:0;border-left:2px solid transparent;border-right:2px solid transparent;border-top:2.2px solid #8a959b"></div>
<div class="t dim" style="left:246px;top:346.7px;">Range Player1</div>
<div class="dcb" style="left:316.5px;top:345.8px;width:48px;height:11px;line-height:9.8px;text-align:center;"><span style="position:relative;left:-6px;color:#69747b">0.00%</span></div>
<div class="a" style="left:357px;top:350.3px;width:0;height:0;border-left:2px solid transparent;border-right:2px solid transparent;border-top:2.2px solid #d0d6da"></div>
<div class="t dim" style="left:464.5px;top:346.7px;">Range Player1</div>
<div class="dcb" style="left:535.5px;top:345.8px;width:49.5px;height:11px;line-height:9.8px;text-align:center;"><span style="position:relative;left:-6px;color:#69747b">0.00%</span></div>
<div class="a" style="left:576px;top:350.3px;width:0;height:0;border-left:2px solid transparent;border-right:2px solid transparent;border-top:2.2px solid #d0d6da"></div>
<div class="t " style="left:27px;top:364.4px;">Range Player2</div>
<div class="cb" style="left:98px;top:363.7px;width:47px;height:10.6px;line-height:11.8px;"><span style="position:relative;left:-5px">17.19%</span></div>
<div class="a" style="left:139px;top:368px;width:0;height:0;border-left:2px solid transparent;border-right:2px solid transparent;border-top:2.2px solid #8a959b"></div>
<div class="t dim" style="left:246px;top:364.4px;">Range Player2</div>
<div class="dcb" style="left:316.5px;top:363.5px;width:48px;height:11px;line-height:9.8px;text-align:center;"><span style="position:relative;left:-6px;color:#69747b">0.00%</span></div>
<div class="a" style="left:357px;top:368px;width:0;height:0;border-left:2px solid transparent;border-right:2px solid transparent;border-top:2.2px solid #d0d6da"></div>
<div class="t dim" style="left:464.5px;top:364.4px;">Range Player2</div>
<div class="dcb" style="left:535.5px;top:363.5px;width:49.5px;height:11px;line-height:9.8px;text-align:center;"><span style="position:relative;left:-6px;color:#69747b">0.00%</span></div>
<div class="a" style="left:576px;top:368px;width:0;height:0;border-left:2px solid transparent;border-right:2px solid transparent;border-top:2.2px solid #d0d6da"></div>
<div class="t " style="left:27px;top:382px;">Range Player3</div>
<div class="cb" style="left:98px;top:381.3px;width:47px;height:10.6px;line-height:11.8px;"><span style="position:relative;left:-5px">11.80%</span></div>
<div class="a" style="left:139px;top:385.6px;width:0;height:0;border-left:2px solid transparent;border-right:2px solid transparent;border-top:2.2px solid #8a959b"></div>
<div class="t dim" style="left:246px;top:382px;">Range Player3</div>
<div class="dcb" style="left:316.5px;top:381.1px;width:48px;height:11px;line-height:9.8px;text-align:center;"><span style="position:relative;left:-6px;color:#69747b">0.00%</span></div>
<div class="a" style="left:357px;top:385.6px;width:0;height:0;border-left:2px solid transparent;border-right:2px solid transparent;border-top:2.2px solid #d0d6da"></div>
<div class="t dim" style="left:464.5px;top:382px;">Range Player3</div>
<div class="dcb" style="left:535.5px;top:381.1px;width:49.5px;height:11px;line-height:9.8px;text-align:center;"><span style="position:relative;left:-6px;color:#69747b">0.00%</span></div>
<div class="a" style="left:576px;top:385.6px;width:0;height:0;border-left:2px solid transparent;border-right:2px solid transparent;border-top:2.2px solid #d0d6da"></div>
<div class="btn" style="left:152px;top:346px;width:82px;height:10.6px;line-height:11.8px;">Calculate Flop</div>
<div class="btn" style="left:152px;top:363.7px;width:82px;height:10.6px;line-height:11.8px;">Add Job</div>
<div class="dbtn" style="left:370.5px;top:345.8px;width:82.5px;height:11px;line-height:9.8px;">Calculate Turn</div>
<div class="dbtn" style="left:589px;top:345.8px;width:82px;height:11px;line-height:9.8px;">Calculate River</div>
<div class="dcb" style="left:370.5px;top:363.5px;width:35px;height:11px;line-height:9.8px;"><span style="position:absolute;left:1.5px;color:#7f8a90;font-size:6px">Turnouts</span></div>
<div class="a" style="left:399.5px;top:368px;width:0;height:0;border-left:1.8px solid transparent;border-right:1.8px solid transparent;border-top:1.98px solid #d0d6da"></div>
<div class="dcb" style="left:589px;top:363.5px;width:35.5px;height:11px;line-height:9.8px;"><span style="position:absolute;left:1.5px;color:#7f8a90;font-size:6px">Turnouts</span></div>
<div class="a" style="left:618.3px;top:368px;width:0;height:0;border-left:1.8px solid transparent;border-right:1.8px solid transparent;border-top:1.98px solid #d0d6da"></div>
<div class="a" style="left:27px;top:397.3px;width:208px;height:5px;border:1px solid #222e35;border-radius:3px 3px 0 0;box-sizing:border-box"></div>
<div class="a" style="left:246px;top:397.3px;width:207px;height:5px;border:1px solid #222e35;border-radius:3px 3px 0 0;box-sizing:border-box"></div>
<div class="a" style="left:464.5px;top:397.3px;width:207px;height:5px;border:1px solid #222e35;border-radius:3px 3px 0 0;box-sizing:border-box"></div>
<div class="a" style="left:683.5px;top:-3px;width:7px;height:406px;border:1px solid #2b373e;box-sizing:border-box"></div>
<div class="a" style="left:684.6px;top:0;width:5.4px;height:285.7px;background:#6f787d;border-radius:0 0 2px 2px"></div>
<div class="a" style="left:685px;top:395.5px;width:0;height:0;border-left:2px solid transparent;border-right:2px solid transparent;border-top:2.2px solid #4a565d"></div>
<div class="a" style="left:694.6px;top:-6px;width:21px;height:412px;background:#f4f4f4"></div>
<div class="a" style="left:694px;top:377.5px;width:21px;height:29px;background:#3c3c3c"></div>
<div class="a" style="left:706px;top:12px;width:1.3px;height:240px;background:#3a3a3e"></div>
<div class="a" style="left:708px;top:12px;width:1px;height:240px;background:#c8c8c8"></div>
<div class="a" style="left:705.6px;top:250px;width:10px;height:156px;background:#2a2a2e"></div>
<div class="a" style="left:692.5px;top:0;width:1.5px;height:400px;background:#10171b"></div>
</div></body></html>
